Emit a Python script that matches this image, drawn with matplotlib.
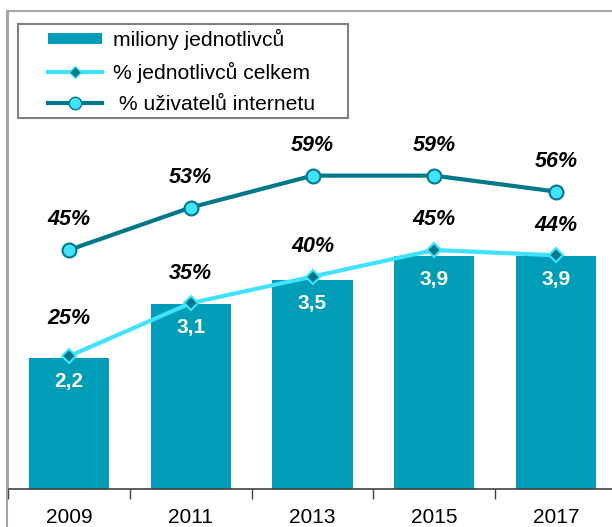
import matplotlib
matplotlib.use("Agg")
import matplotlib.pyplot as plt
from matplotlib.patches import Rectangle
from matplotlib.lines import Line2D
import numpy as np

plt.rcParams['font.family'] = ['Liberation Sans', 'DejaVu Sans']

# data
years = ['2009', '2011', '2013', '2015', '2017']
milions = [2.2, 3.1, 3.5, 3.9, 3.9]
pct_total = [25, 35, 40, 45, 44]
pct_internet = [45, 53, 59, 59, 56]

bar_color = '#009DB8'
light = '#40E3FF'
dark = '#00788A'

W, H = 612, 527
fig = plt.figure(figsize=(W / 100, H / 100), dpi=100)

# outer chart frame (cropped on the right)
fig.add_artist(Rectangle((7 / W, -0.1), 1.0, (H - 10.5) / H + 0.1, transform=fig.transFigure,
                         facecolor='none', edgecolor='#A6A6A6', linewidth=1.5))

left, right, bottom, top = 8, 617, 489, 11
ax = fig.add_axes([left / W, 1 - bottom / H, (right - left) / W, (bottom - top) / H])
ax.patch.set_alpha(0)
x = np.arange(len(years))

ax.bar(x, milions, width=0.66, color=bar_color, zorder=2)
ax.set_xlim(-0.5, len(years) - 0.5)
ax.set_ylim(0, 8)
ax.set_yticks([])
for s in ['top', 'right']:
    ax.spines[s].set_visible(False)
ax.spines['left'].set_color('#A6A6A6')
ax.spines['left'].set_linewidth(1.5)
ax.spines['bottom'].set_color('#404040')
ax.spines['bottom'].set_linewidth(1.2)
ax.set_xticks(x)
ax.set_xticklabels(years, fontsize=15)
ax.tick_params(axis='x', length=0, pad=14)
ax.set_xticks(np.arange(-0.5, len(years)), minor=True)
ax.tick_params(axis='x', which='minor', length=7, width=1, color='#404040', direction='out')

for xi, v in zip(x, milions):
    ax.annotate(f'{v:.1f}'.replace('.', ','), (xi, v), xytext=(0, -24), textcoords='offset pixels',
                ha='center', va='center', color='white', fontsize=15, fontweight='bold', zorder=5)

ax2 = ax.twinx()
ax2.set_ylim(0, 90)
ax2.set_yticks([])
for s in ax2.spines.values():
    s.set_visible(False)

ax2.plot(x, pct_internet, color=dark, linewidth=3, marker='o', markersize=10,
         markerfacecolor=light, markeredgecolor=dark, markeredgewidth=1.5, zorder=3)
ax2.plot(x, pct_total, color=light, linewidth=3, marker='D', markersize=7,
         markerfacecolor=dark, markeredgecolor=light, markeredgewidth=1.5, zorder=3)

for xi, v in zip(x, pct_internet):
    ax2.annotate(f'{v}%', (xi, v), xytext=(0, 30), textcoords='offset pixels',
                 ha='center', va='center', fontsize=15.5, fontweight='bold', style='italic')
offs = [38, 30, 30, 30, 30]
for xi, v, o in zip(x, pct_total, offs):
    ax2.annotate(f'{v}%', (xi, v), xytext=(0, o), textcoords='offset pixels',
                 ha='center', va='center', fontsize=15.5, fontweight='bold', style='italic')

# legend box drawn separately so the inner padding can match
fig.add_artist(Rectangle((18 / W, 1 - 118 / H), 330 / W, 94 / H, transform=fig.transFigure,
                         facecolor='white', edgecolor='#808080', linewidth=1.5, zorder=4))
handles = [
    Rectangle((0, 0), 1, 1, facecolor=bar_color, edgecolor='none'),
    Line2D([], [], color=light, linewidth=3, marker='D', markersize=6,
           markerfacecolor=dark, markeredgecolor=light),
    Line2D([], [], color=dark, linewidth=3, marker='o', markersize=9,
           markerfacecolor=light, markeredgecolor=dark),
]
labels = ['miliony jednotlivců', '% jednotlivců celkem', ' % uživatelů internetu']
leg = fig.legend(handles, labels, loc='upper left', bbox_to_anchor=(48 / W, 1 - 29 / H),
                 fontsize=15.2, frameon=False, handlelength=2.55, handleheight=0.45,
                 handletextpad=0.55, borderpad=0, labelspacing=0.56, borderaxespad=0)
leg.set_zorder(5)

fig.savefig('out.png', dpi=100)
